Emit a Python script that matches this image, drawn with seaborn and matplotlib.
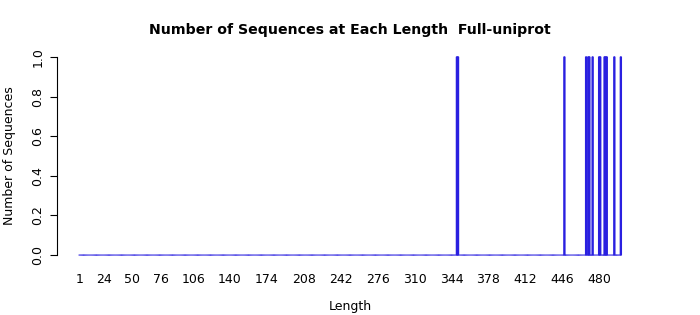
import numpy as np
import pandas as pd
import matplotlib
matplotlib.use("Agg")
import matplotlib.pyplot as plt
import seaborn as sns

# Data
max_length = 500
peak_lengths = [349, 350, 448, 468, 470, 471, 474, 480, 481, 485, 486, 487, 494, 500]
peak_counts = [1, 1, 1, 1, 1, 1, 1, 1, 1, 1, 1, 1, 1, 1]
xtick_labels = [1, 24, 50, 76, 106, 140, 174, 208, 242, 276, 310, 344, 378, 412, 446, 480]
ytick_values = [0.0, 0.2, 0.4, 0.6, 0.8, 1.0]

lengths = np.arange(1, max_length + 1)
counts = np.zeros(max_length)
for L, c in zip(peak_lengths, peak_counts):
    counts[L - 1] = c
df = pd.DataFrame({"Length": lengths, "Count": counts})

sns.set_style("white")
plt.rcParams["font.family"] = ["DejaVu Sans"]
plt.rcParams["text.color"] = "black"
plt.rcParams["axes.labelcolor"] = "black"
plt.rcParams["xtick.color"] = "black"
plt.rcParams["ytick.color"] = "black"

W, H = 700, 315
fig = plt.figure(figsize=(W / 100, H / 100), dpi=100)
ax = fig.add_axes([57 / W, (H - 263) / H, (643 - 57) / W, (263 - 49) / H])

sns.barplot(data=df, x="Length", y="Count", native_scale=True, width=0.9,
            color="#2200ee", edgecolor="#2a20e0", linewidth=1.0, saturation=1,
            ax=ax)
for p in ax.patches:
    p.set_snap(False)

ax.set_xlim(-19.4, 520.4)
ax.set_ylim(-0.04, 1.04)

for s in ["top", "right", "bottom"]:
    ax.spines[s].set_visible(False)
ax.spines["left"].set_bounds(0, 1)
ax.spines["left"].set_linewidth(0.8)
ax.spines["left"].set_color("black")

ax.set_yticks(ytick_values)
ax.set_yticklabels([f"{v:.1f}" for v in ytick_values], rotation=90, va="center",
                   fontsize=9)
ax.tick_params(axis="y", length=5, width=0.8, color="black", left=True, pad=4)

ax.set_xticks(xtick_labels)
ax.set_xticklabels([str(v) for v in xtick_labels], fontsize=9)
ax.tick_params(axis="x", length=0, pad=7)

ax.set_xlabel("Length", fontsize=9, labelpad=10)
ax.set_ylabel("Number of Sequences", fontsize=9, labelpad=11)
ax.set_title("Number of Sequences at Each Length  Full-uniprot", fontsize=10.2,
             fontweight="bold", pad=11, color="black")

fig.savefig("out.png", dpi=100)
